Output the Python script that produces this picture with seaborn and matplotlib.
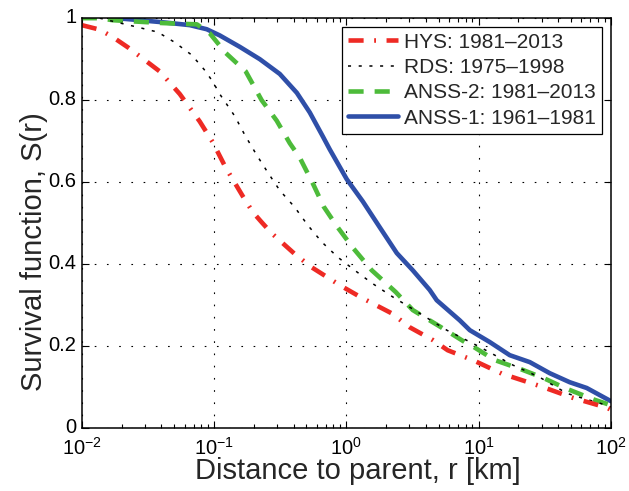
import numpy as np
import pandas as pd
import matplotlib
matplotlib.use("Agg")
import matplotlib.pyplot as plt
import matplotlib.transforms as mtransforms
import seaborn as sns
from matplotlib.ticker import LogLocator, FixedLocator, FuncFormatter

# ---- data (log10 of distance in km, survival S) ----
hys_log_r = [-2.0, -1.864, -1.766, -1.652, -1.524, -1.41, -1.259, -1.108, -1.009, -0.911,
             -0.82, -0.783, -0.707, -0.639, -0.563, -0.39, -0.26, -0.04, 0.117, 0.344,
             0.48, 0.654, 0.767, 0.964, 1.176, 1.471, 1.713, 1.97, 2.0]
hys_s = [0.983, 0.972, 0.954, 0.929, 0.898, 0.87, 0.815, 0.748, 0.697, 0.635,
         0.586, 0.566, 0.527, 0.502, 0.475, 0.425, 0.392, 0.347, 0.318, 0.28,
         0.246, 0.215, 0.19, 0.165, 0.133, 0.102, 0.074, 0.05, 0.045]

rds_log_r = [-1.864, -1.735, -1.577, -1.425, -1.297, -1.168, -1.07, -1.009, -0.957, -0.904,
             -0.843, -0.767, -0.677, -0.594, -0.503, -0.39, -0.291, -0.185, -0.064, 0.064,
             0.193, 0.352, 0.48, 0.76, 1.01, 1.259, 1.463, 1.667, 1.788, 1.917, 2.0]
rds_s = [1.0, 0.99, 0.978, 0.966, 0.941, 0.91, 0.873, 0.845, 0.815, 0.79,
         0.761, 0.715, 0.666, 0.624, 0.58, 0.539, 0.495, 0.454, 0.417, 0.385,
         0.354, 0.32, 0.295, 0.239, 0.198, 0.154, 0.124, 0.085, 0.073, 0.061, 0.052]

anss2_log_r = [-2.0, -1.864, -1.766, -1.388, -1.13, -1.032, -0.911, -0.76, -0.64, -0.526,
               -0.427, -0.352, -0.253, -0.17, -0.072, 0.05, 0.193, 0.374, 0.503, 0.707,
               0.896, 0.964, 1.123, 1.327, 1.486, 1.667, 1.871, 2.0]
anss2_s = [1.0, 1.0, 0.995, 0.988, 0.985, 0.963, 0.915, 0.87, 0.80, 0.75,
           0.695, 0.66, 0.597, 0.54, 0.493, 0.44, 0.385, 0.332, 0.288, 0.248,
           0.21, 0.198, 0.166, 0.143, 0.123, 0.096, 0.07, 0.056]

anss1_log_r = [-1.735, -1.388, -1.183, -1.055, -0.957, -0.805, -0.654, -0.503, -0.374, -0.276,
               -0.178, -0.125, -0.072, 0.004, 0.125, 0.253, 0.382, 0.503, 0.631, 0.684,
               0.858, 0.934, 1.085, 1.236, 1.388, 1.539, 1.69, 1.818, 2.0]
anss1_s = [1.0, 0.99, 0.983, 0.973, 0.958, 0.93, 0.9, 0.864, 0.818, 0.77,
           0.712, 0.68, 0.65, 0.607, 0.553, 0.49, 0.427, 0.385, 0.337, 0.312,
           0.263, 0.239, 0.21, 0.178, 0.161, 0.134, 0.112, 0.098, 0.066]

labels = ["HYS: 1981\u20132013", "RDS: 1975\u20131998", "ANSS-2: 1981\u20132013", "ANSS-1: 1961\u20131981"]
y_ticks = [0, 0.2, 0.4, 0.6, 0.8, 1.0]

# ---- style ----
sns.set_style("ticks")
plt.rcParams["font.family"] = ["Liberation Sans", "DejaVu Sans"]
plt.rcParams["mathtext.fontset"] = "custom"
plt.rcParams["mathtext.rm"] = "Liberation Sans"
plt.rcParams["mathtext.it"] = "Liberation Sans:italic"

fig = plt.figure(figsize=(6.29, 4.91), dpi=100)
ax = fig.add_axes([0.130, 0.128, 0.841, 0.835])

series = [
    (anss1_log_r, anss1_s, labels[3], "#2f4fa8", 3.3, "-"),
    (anss2_log_r, anss2_s, labels[2], "#4dbb3a", 3.3, (0, (3.3, 2.4))),
    (rds_log_r, rds_s, labels[1], "black", 1.1, (0, (2, 5))),
    (hys_log_r, hys_s, labels[0], "#ee2a24", 3.3, (0, (3.3, 2.3, 0.4, 2.3))),
]
handles = {}
for lr, s, lab, col, lw, ls in series:
    df = pd.DataFrame({"r": 10.0 ** np.array(lr), "S": s})
    sns.lineplot(data=df, x="r", y="S", ax=ax, color=col, linewidth=lw,
                 linestyle=ls, label=lab, sort=False, estimator=None)
    handles[lab] = ax.get_lines()[-1]

ax.set_xscale("log")
ax.set_xlim(1e-2, 1e2)
ax.set_ylim(0, 1)
ax.yaxis.set_major_locator(FixedLocator(y_ticks))
ax.yaxis.set_major_formatter(FuncFormatter(lambda v, p: "%g" % v))
ax.xaxis.set_major_locator(LogLocator(base=10, numticks=10))
ax.xaxis.set_minor_locator(LogLocator(base=10, subs=np.arange(2, 10), numticks=20))

ax.grid(True, which="major", linestyle=(0, (1.5, 9.5)), color="black", linewidth=0.8)
ax.tick_params(which="both", direction="in", top=True, right=True, colors="black",
               labelsize=14.5, width=0.8)
ax.tick_params(which="major", length=5)
ax.tick_params(which="minor", length=3)
ax.tick_params(axis="x", which="major", pad=6.5)
ax.tick_params(axis="y", which="major", pad=4)
for sp in ax.spines.values():
    sp.set_linewidth(1.1)
    sp.set_color("black")

# nudge y tick labels up slightly (as in the reference, "0" sits above "10^-2")
offset = mtransforms.ScaledTranslation(0, 3 / 100, fig.dpi_scale_trans)
for lbl in ax.get_yticklabels():
    lbl.set_transform(lbl.get_transform() + offset)

ax.set_xlabel("Distance to parent, r [km]", fontsize=21)
ax.set_ylabel("Survival function, S(r)", fontsize=21)
ax.xaxis.set_label_coords(0.522, -0.071)
ax.yaxis.set_label_coords(-0.064, 0.43)

leg = ax.legend([handles[l] for l in labels], labels, loc="upper right",
                fontsize=15, frameon=True, fancybox=False, edgecolor="black",
                framealpha=1, handlelength=2.4, borderaxespad=0.4,
                labelspacing=0.3, handletextpad=0.3, borderpad=0.3)
leg.get_frame().set_linewidth(0.9)

fig.savefig("out.png", dpi=100)
